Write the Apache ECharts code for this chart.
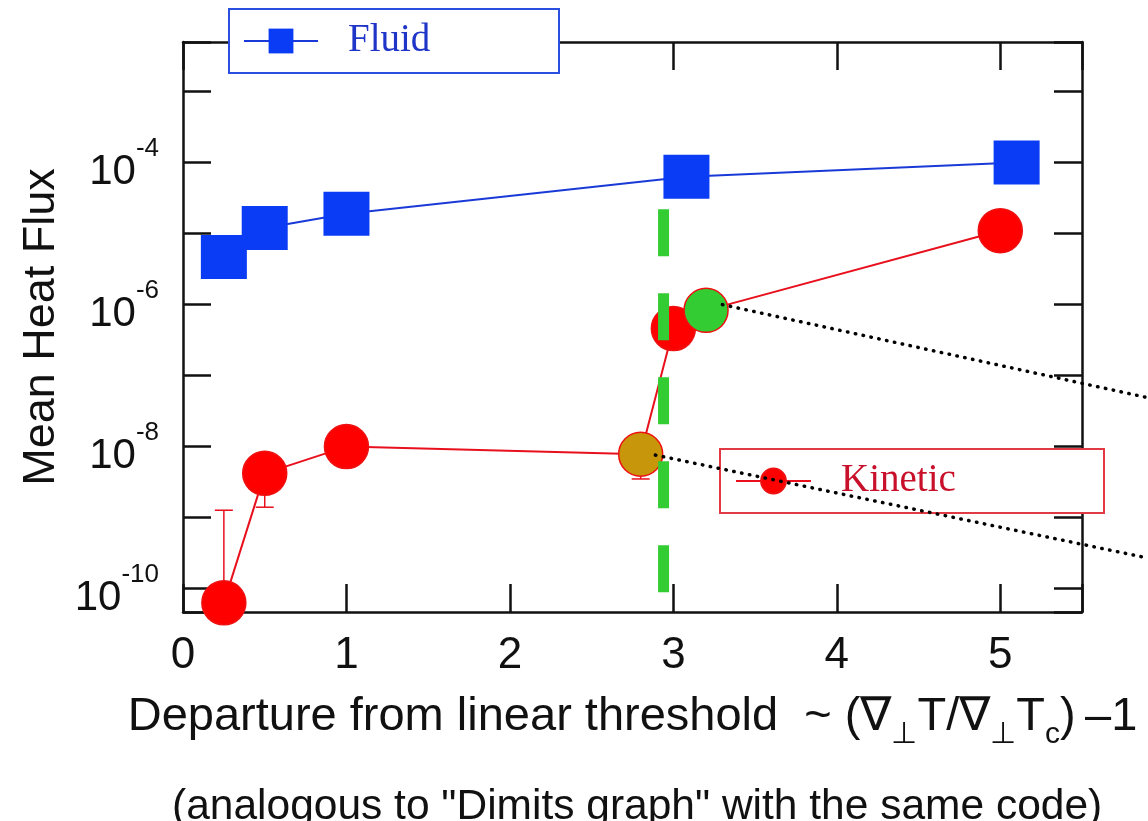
<!DOCTYPE html>
<html>
<head>
<meta charset="utf-8">
<script src="https://cdn.jsdelivr.net/npm/echarts@6/dist/echarts.min.js"></script>
<style>
  html, body { margin: 0; padding: 0; background: #fff; }
  #chart { width: 1148px; height: 821px; }
</style>
</head>
<body>
<div id="chart"></div>
<script>
// values
const fluidX = [0.25, 0.5, 1, 3.08, 5.1];
const fluidY = [4.7e-6, 1.2e-5, 1.9e-5, 6.3e-5, 1.0e-4];
const kineticX = [0.25, 0.5, 1, 2.8, 3.0, 3.2, 5.0];
const kineticY = [6.3e-11, 4.2e-9, 1.0e-8, 7.8e-9, 4.6e-7, 8.3e-7, 1.1e-5];
const kineticFill = ['#ff0000', '#ff0000', '#ff0000', '#c8960a', '#ff0000', '#33cc33', '#ff0000'];
const errX = [0.25, 0.5, 2.8];
const errLow = [6.3e-11, 1.4e-9, 3.5e-9];
const errHigh = [1.27e-9, 4.2e-9, 7.8e-9];
const thresholdX = 2.94;
const thresholdY = [2.2e-5, 8.5e-11];
const pointerFrom = [[3.3, 1.0e-6], [2.89, 7.6e-9]];
const pointerTo = [[5.9, 4.9e-8], [5.9, 2.7e-10]];
const xRange = [0, 5.5];
const yRange = [4.68e-11, 5.0e-3];

const SANS = "'Liberation Sans', Arial, Helvetica, sans-serif";
const SERIF = "'Liberation Serif', 'Times New Roman', serif";
const INK = '#111';

const chart = echarts.init(document.getElementById('chart'), null, { renderer: 'canvas' });

const frameLine = () => ({ show: true, onZero: false, lineStyle: { color: INK, width: 2.5 } });
const innerTick = () => ({ show: true, inside: true, length: 28, lineStyle: { color: INK, width: 2.5 } });

function powerLabel(v){
  const e = Math.log10(v);
  const n = Math.round(e);
  if (Math.abs(e - n) > 1e-6 || n % 2 !== 0) return '';
  return `{b|10}{s|${n}}`;
}

function intLabel(v){
  return Number.isInteger(v) ? String(v) : '';
}

function renderErr(params, api){
  const x = api.value(0);
  const lo = api.coord([x, api.value(1)]);
  const hi = api.coord([x, api.value(2)]);
  const cap = 9;
  const style = { stroke: '#e8101c', lineWidth: 1.5 };
  return {
    type: 'group',
    children: [
      { type: 'line', shape: { x1: lo[0], y1: lo[1], x2: hi[0], y2: hi[1] }, style },
      { type: 'line', shape: { x1: lo[0] - cap, y1: lo[1], x2: lo[0] + cap, y2: lo[1] }, style },
      { type: 'line', shape: { x1: hi[0] - cap, y1: hi[1], x2: hi[0] + cap, y2: hi[1] }, style }
    ]
  };
}

// dotted pointers run past the frame, so they are drawn without clipping
function renderPointer(params, api){
  const a = api.coord([api.value(0), api.value(1)]);
  const b = api.coord([api.value(2), api.value(3)]);
  return {
    type: 'line',
    shape: { x1: a[0], y1: a[1], x2: b[0], y2: b[1] },
    style: { stroke: '#000', lineWidth: 3.5, lineDash: [0.5, 7.5], lineCap: 'round' }
  };
}

chart.setOption({
  animation: false,
  backgroundColor: '#fff',
  title: {
    text: '(analogous to "Dimits graph" with the same code)',
    left: 167,
    top: 781,
    padding: 5,
    textStyle: { fontSize: 42.5, lineHeight: 42, fontWeight: 'normal', fontFamily: SANS, color: INK }
  },
  legend: [{
    data: ['Fluid'],
    left: 229, top: 9,
    padding: [10, 10, 10, 14],
    itemWidth: 74, itemHeight: 31,
    backgroundColor: '#fff',
    borderColor: '#2a4ee0', borderWidth: 2, borderRadius: 0,
    selectedMode: false,
    z: 5,
    textStyle: { fontFamily: SERIF, fontSize: 39, lineHeight: 44, color: '#1f35c8', width: 201, padding: [0, 0, 0, 25] }
  }, {
    data: ['Kinetic'],
    left: 720, top: 449,
    padding: [10, 10, 10, 15],
    itemWidth: 75, itemHeight: 31,
    backgroundColor: '#fff',
    borderColor: '#e23a44', borderWidth: 2, borderRadius: 0,
    selectedMode: false,
    z: 5,
    textStyle: { fontFamily: SERIF, fontSize: 39, lineHeight: 44, color: '#c8102a', width: 253, padding: [0, 0, 0, 25] }
  }],
  grid: { left: 183, right: 66, top: 42, bottom: 209, containLabel: false },
  xAxis: [{
    type: 'value', position: 'bottom',
    min: xRange[0], max: xRange[1], interval: 1,
    axisLine: frameLine(), axisTick: innerTick(), splitLine: { show: false },
    axisLabel: { margin: 22, fontSize: 44, fontFamily: SANS, color: INK, formatter: intLabel },
    name: 'Departure from linear threshold  ~ (∇{sub|⊥}T/∇{sub|⊥}T{sub|c})\u2009–1',
    nameLocation: 'middle', nameGap: 72,
    nameTextStyle: {
      fontSize: 47, lineHeight: 66, fontFamily: SANS, color: INK,
      rich: { sub: { fontSize: 30, lineHeight: 30, verticalAlign: 'bottom', fontFamily: SANS, color: INK } }
    }
  }, {
    type: 'value', position: 'top',
    min: xRange[0], max: xRange[1], interval: 1,
    axisLine: frameLine(), axisTick: innerTick(), splitLine: { show: false },
    axisLabel: { show: false }
  }],
  yAxis: [{
    type: 'log', logBase: 10, position: 'left',
    min: yRange[0], max: yRange[1],
    axisLine: frameLine(), axisTick: innerTick(), splitLine: { show: false }, minorTick: { show: false },
    axisLabel: {
      margin: 24, formatter: powerLabel, padding: [4, 0, 0, 0],
      rich: {
        b: { fontSize: 42, lineHeight: 58, fontFamily: SANS, color: INK, verticalAlign: 'bottom' },
        s: { fontSize: 26, lineHeight: 26, fontFamily: SANS, color: INK, verticalAlign: 'top' }
      }
    },
    name: 'Mean Heat Flux', nameLocation: 'middle', nameGap: 113,
    nameTextStyle: { fontSize: 45, fontFamily: SANS, color: INK }
  }, {
    type: 'log', logBase: 10, position: 'right',
    min: yRange[0], max: yRange[1],
    axisLine: frameLine(), axisTick: innerTick(), splitLine: { show: false }, minorTick: { show: false },
    axisLabel: { show: false }
  }],
  series: [{
    type: 'custom',
    name: 'errors',
    renderItem: renderErr,
    data: errX.map((x, i) => [x, errLow[i], errHigh[i]]),
    clip: false,
    silent: true,
    z: 2
  }, {
    type: 'line',
    name: 'Fluid',
    data: fluidX.map((x, i) => [x, fluidY[i]]),
    symbol: 'rect',
    symbolSize: [46, 44],
    clip: false,
    z: 3,
    emphasis: { disabled: true },
    itemStyle: { color: '#0a3cf5' },
    lineStyle: { color: '#1a3ad8', width: 2 }
  }, {
    type: 'line',
    name: 'Kinetic',
    data: kineticX.map((x, i) => ({ value: [x, kineticY[i]], itemStyle: { color: kineticFill[i] } })),
    symbol: 'circle',
    symbolSize: 44,
    clip: false,
    z: 3,
    emphasis: { disabled: true },
    itemStyle: { color: '#ff0000', borderColor: '#ee1111', borderWidth: 1.5 },
    lineStyle: { color: '#e8101c', width: 2 }
  }, {
    type: 'line',
    name: 'threshold',
    data: thresholdY.map(y => [thresholdX, y]),
    symbol: 'none',
    silent: true,
    z: 4,
    lineStyle: { color: '#33cc33', width: 11, type: [47, 37], cap: 'butt' }
  }, {
    type: 'custom',
    name: 'pointers',
    renderItem: renderPointer,
    data: pointerFrom.map((p, i) => [p[0], p[1], pointerTo[i][0], pointerTo[i][1]]),
    clip: false,
    silent: true,
    z: 6
  }]
});
</script>
</body>
</html>
